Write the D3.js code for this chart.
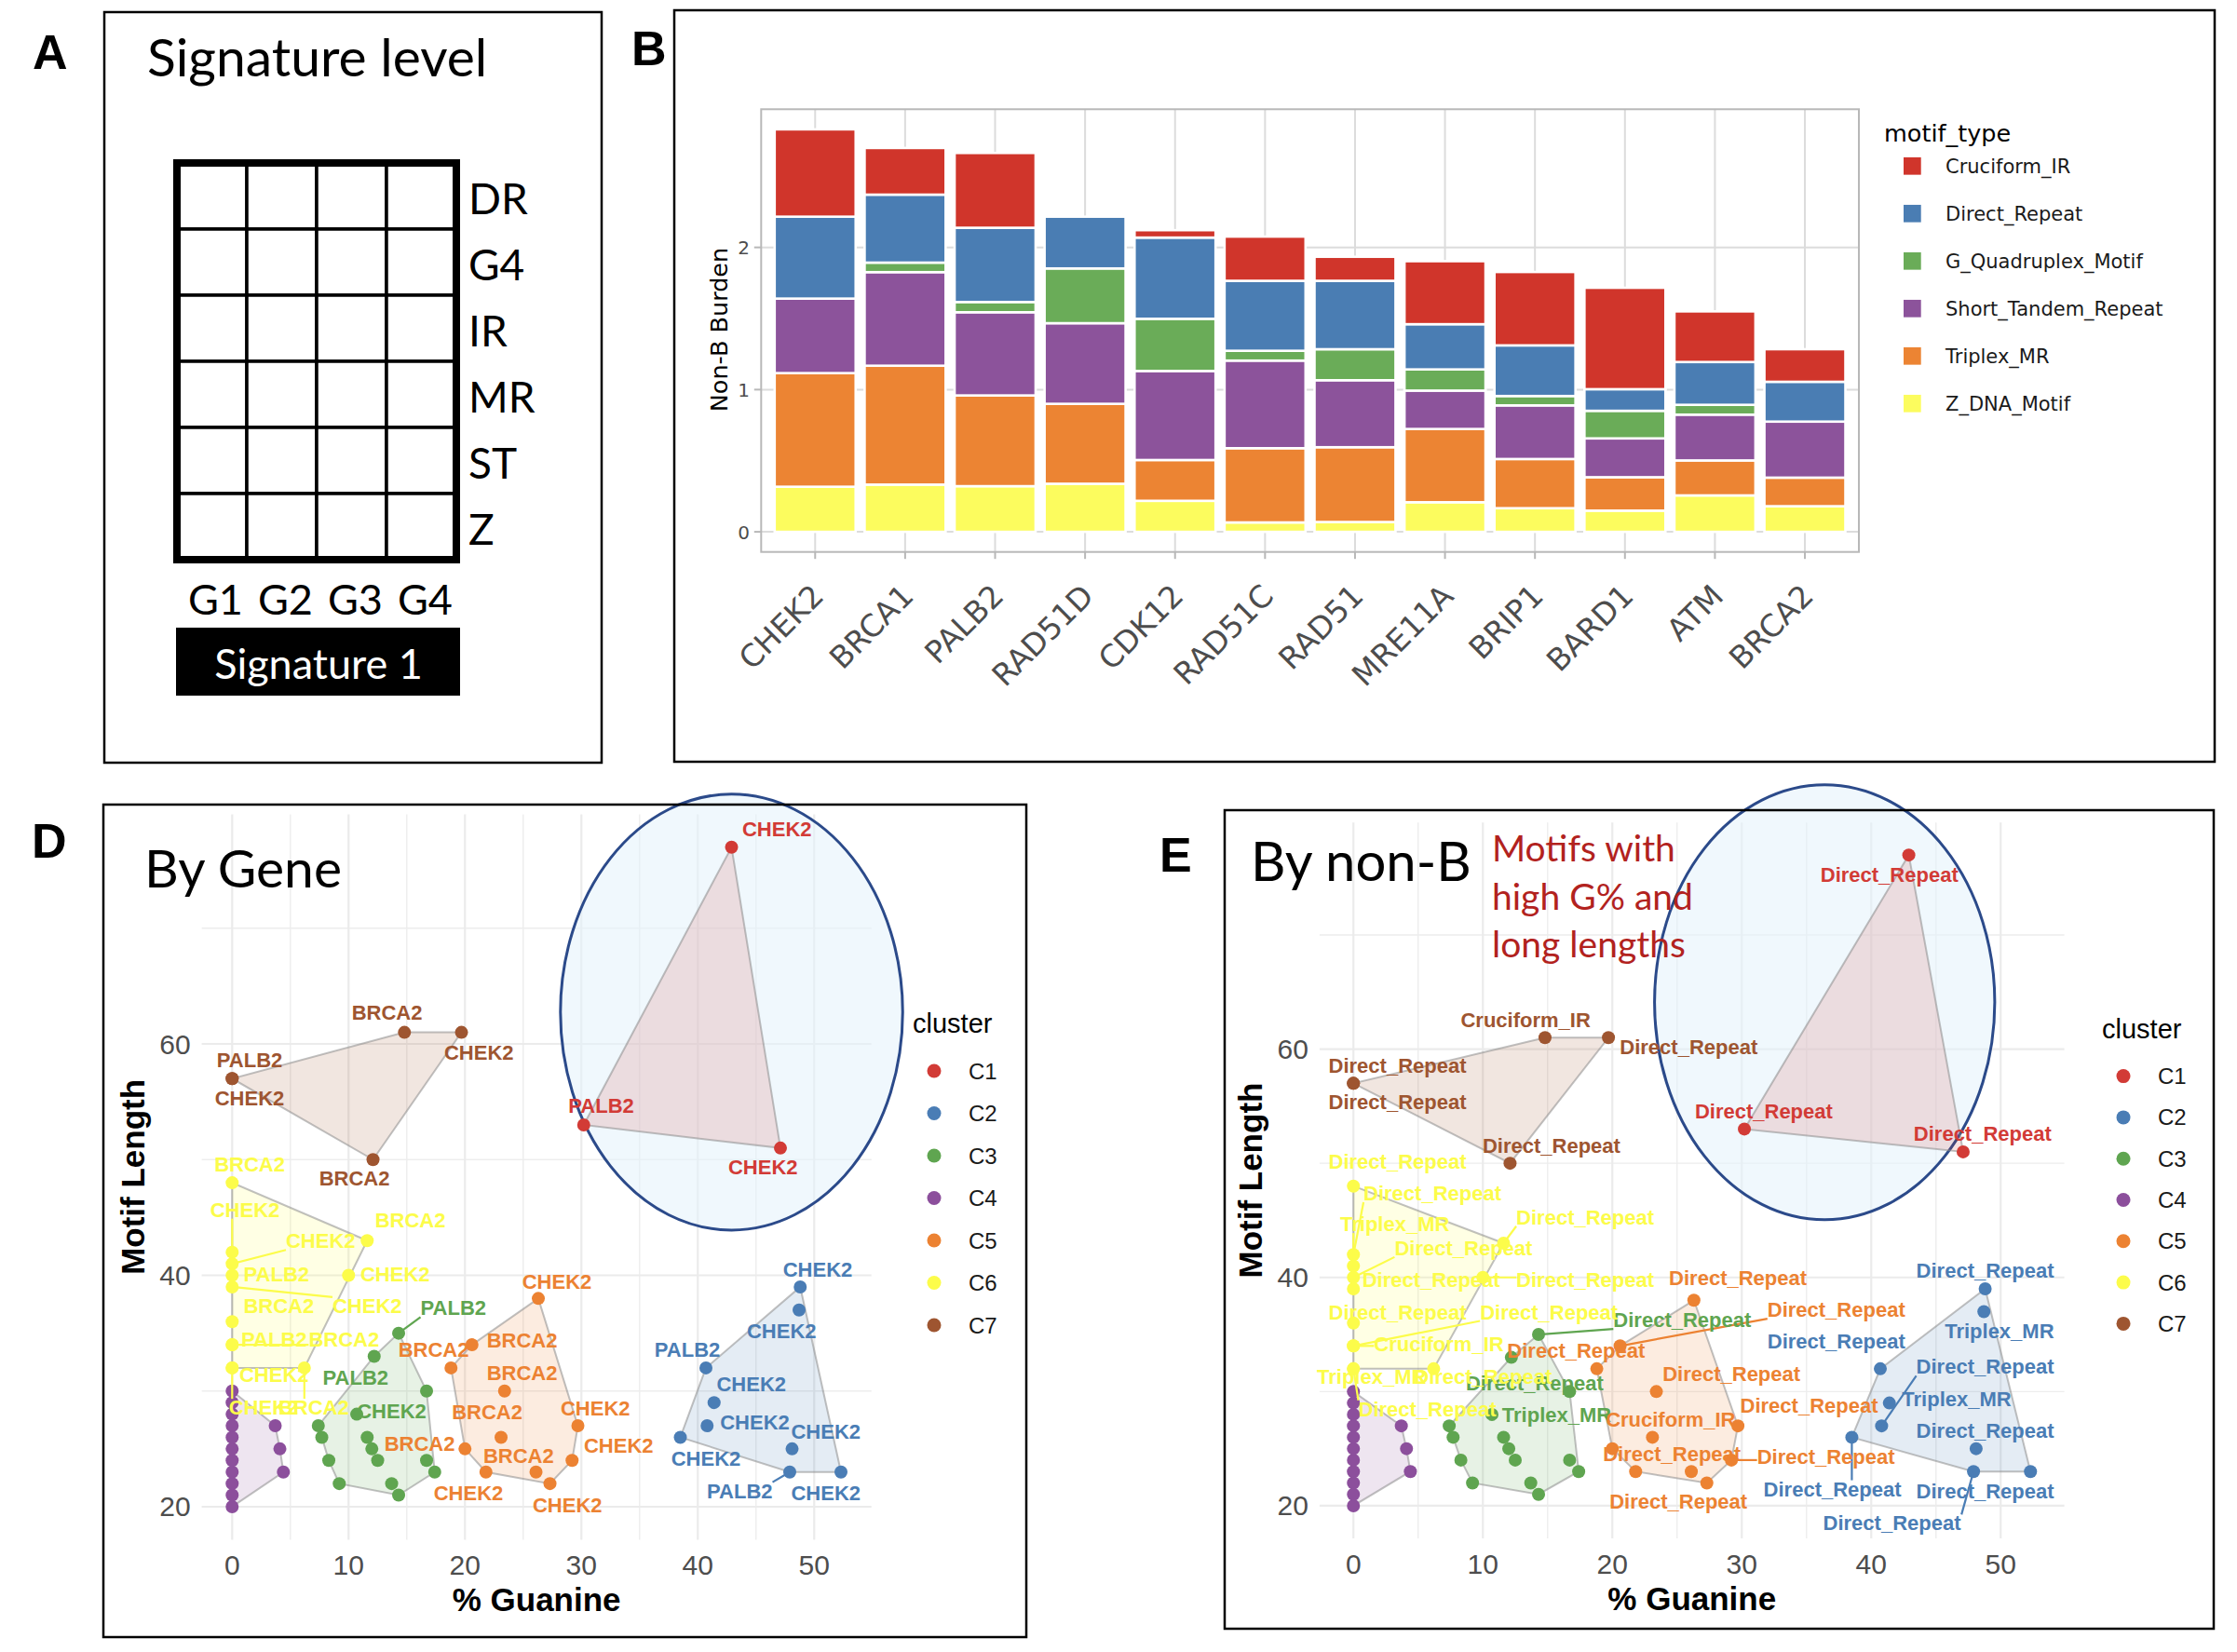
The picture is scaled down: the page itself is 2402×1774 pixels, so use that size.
<!DOCTYPE html>
<html>
<head>
<meta charset="utf-8">
<script src="https://cdn.jsdelivr.net/npm/d3@7"></script>
<style>
  body { margin: 0; background: #fff; }
  svg { display: block; }
</style>
</head>
<body>
<svg id="fig" width="2402" height="1774"></svg>
<script>
// ---------- panel A: signature layout ----------
const sigRows = ["DR", "G4", "IR", "MR", "ST", "Z"];
const sigCols = ["G1", "G2", "G3", "G4"];

// ---------- panel B: non-B burden per gene ----------
const genes = ["CHEK2", "BRCA1", "PALB2", "RAD51D", "CDK12", "RAD51C", "RAD51", "MRE11A", "BRIP1", "BARD1", "ATM", "BRCA2"];
const motifTypes = ["Cruciform_IR", "Direct_Repeat", "G_Quadruplex_Motif", "Short_Tandem_Repeat", "Triplex_MR", "Z_DNA_Motif"];
const motifColors = ["#D0352B", "#4A7DB3", "#6AAC58", "#8C539B", "#EC8433", "#FCFC5E"];
const cruciformIR   = [0.614, 0.328, 0.526, 0.000, 0.052, 0.311, 0.169, 0.443, 0.516, 0.713, 0.356, 0.229];
const directRepeat  = [0.576, 0.478, 0.522, 0.364, 0.571, 0.492, 0.481, 0.318, 0.356, 0.152, 0.301, 0.280];
const gQuadruplex   = [0.000, 0.067, 0.072, 0.385, 0.367, 0.069, 0.218, 0.149, 0.066, 0.194, 0.069, 0.000];
const shortTandem   = [0.524, 0.658, 0.585, 0.567, 0.626, 0.616, 0.471, 0.270, 0.377, 0.273, 0.322, 0.394];
const triplexMR     = [0.799, 0.836, 0.638, 0.562, 0.287, 0.522, 0.526, 0.515, 0.346, 0.235, 0.246, 0.201];
const zDNA          = [0.317, 0.332, 0.321, 0.338, 0.218, 0.066, 0.069, 0.208, 0.166, 0.149, 0.256, 0.180];
const burdenTicks = [0, 1, 2];

// ---------- panels D / E: motif clusters ----------
const clusters = ["C1", "C2", "C3", "C4", "C5", "C6", "C7"];
const clusterColors = ["#D23B36", "#4A7DB5", "#5FA550", "#8C4F9C", "#EC8232", "#FCFC4A", "#9E5530"];
const pointCluster = [
  "C1","C1","C1",
  "C2","C2","C2","C2","C2","C2","C2","C2","C2",
  "C3","C3","C3","C3","C3","C3","C3","C3","C3","C3","C3","C3","C3","C3","C3",
  "C4","C4","C4","C4","C4","C4","C4","C4","C4","C4","C4","C4","C4","C4",
  "C5","C5","C5","C5","C5","C5","C5","C5","C5","C5","C5",
  "C6","C6","C6","C6","C6","C6","C6","C6","C6","C6","C6","C6","C6",
  "C7","C7","C7","C7","C7"];
const pointGuanine = [
  42.9, 30.2, 47.1,
  48.8, 48.7, 40.7, 41.4, 40.8, 38.5, 48.1, 47.9, 52.3,
  14.3, 12.2, 16.7, 10.7, 7.4, 7.7, 11.6, 12.0, 12.5, 8.3, 16.7, 17.4, 9.2, 13.7, 14.3,
  0, 0, 0, 0, 0, 0, 0, 0, 0, 0, 0, 3.7, 4.1, 4.4,
  26.3, 20.6, 18.8, 23.4, 29.7, 23.1, 20.0, 29.2, 21.8, 26.1, 27.3,
  0, 0, 0, 0, 0, 0, 0, 0, 0, 0, 6.2, 11.6, 10.0,
  0, 0, 14.8, 19.7, 12.1];
const pointLength = [
  77, 53, 51,
  39, 37, 32, 29, 27, 26, 25, 23, 23,
  35, 33, 30, 28, 27, 26, 26, 25, 24, 24, 24, 23, 22, 22, 21,
  20, 21, 22, 23, 24, 25, 26, 27, 28, 29, 30, 27, 25, 23,
  38, 34, 32, 30, 27, 26, 25, 24, 23, 23, 22,
  48, 42, 41, 40, 39, 36, 34, 34, 32, 32, 32, 43, 40,
  57, 57, 61, 61, 50];
const geneLabels = [
  "CHEK2","PALB2","CHEK2",
  "CHEK2","CHEK2","PALB2","CHEK2","CHEK2","CHEK2","CHEK2","PALB2","CHEK2",
  "PALB2","PALB2",null,"CHEK2",null,null,null,null,null,null,null,null,null,null,null,
  null,null,null,null,null,null,null,null,null,null,null,null,null,null,
  "CHEK2","BRCA2","BRCA2","BRCA2","CHEK2","BRCA2","BRCA2","CHEK2","CHEK2","BRCA2","CHEK2",
  "BRCA2","CHEK2","CHEK2","PALB2","CHEK2","BRCA2","PALB2","BRCA2","CHEK2","CHEK2","BRCA2","BRCA2","CHEK2",
  "PALB2","CHEK2","BRCA2","CHEK2","BRCA2"];
const geneLabelGuanine = [
  46.8, 31.7, 45.6,
  50.3, 47.2, 39.1, 44.6, 44.9, 40.7, 51.0, 43.6, 51.0,
  19.0, 10.6, 0, 13.7, 0, 0, 0, 0, 0, 0, 0, 0, 0, 0, 0,
  0, 0, 0, 0, 0, 0, 0, 0, 0, 0, 0, 0, 0, 0,
  27.9, 24.9, 17.3, 24.9, 31.2, 21.9, 16.1, 33.2, 20.3, 24.6, 28.8,
  1.5, 1.1, 7.6, 3.8, 11.6, 4.0, 3.6, 9.6, 3.6, 2.7, 7.0, 15.3, 14.0,
  1.5, 1.5, 13.3, 21.2, 10.5];
const geneLabelLength = [
  78.6, 54.7, 49.4,
  40.5, 35.2, 33.6, 30.6, 27.3, 24.2, 26.5, 21.4, 21.2,
  37.2, 31.2, 0, 28.3, 0, 0, 0, 0, 0, 0, 0, 0, 0, 0, 0,
  0, 0, 0, 0, 0, 0, 0, 0, 0, 0, 0, 0, 0, 0,
  39.5, 34.4, 33.6, 31.6, 28.5, 28.2, 25.5, 25.3, 21.2, 24.4, 20.2,
  49.6, 45.7, 43.0, 40.1, 37.4, 37.4, 34.5, 34.5, 31.4, 28.6, 28.6, 44.8, 40.1,
  58.6, 55.3, 62.7, 59.3, 48.4];
const nonBLabels = [
  "Direct_Repeat","Direct_Repeat","Direct_Repeat",
  "Direct_Repeat","Triplex_MR","Direct_Repeat","Triplex_MR","Direct_Repeat","Direct_Repeat","Direct_Repeat","Direct_Repeat","Direct_Repeat",
  "Direct_Repeat","Direct_Repeat",null,"Triplex_MR",null,null,null,null,null,null,null,null,null,null,null,
  null,null,null,null,null,null,null,null,null,null,null,null,null,null,
  "Direct_Repeat","Direct_Repeat","Direct_Repeat","Direct_Repeat","Direct_Repeat","Cruciform_IR","Direct_Repeat","Direct_Repeat",null,null,"Direct_Repeat",
  "Direct_Repeat","Direct_Repeat","Triplex_MR","Direct_Repeat","Direct_Repeat","Direct_Repeat","Cruciform_IR","Direct_Repeat","Triplex_MR","Direct_Repeat","Direct_Repeat","Direct_Repeat","Direct_Repeat",
  "Direct_Repeat","Direct_Repeat","Cruciform_IR","Direct_Repeat","Direct_Repeat"];
const nonBLabelGuanine = [
  41.4, 31.7, 48.6,
  48.8, 49.9, 37.3, 46.6, 48.8, 37.0, 48.8, 41.6, 48.8,
  25.4, 14.0, 0, 15.7, 0, 0, 0, 0, 0, 0, 0, 0, 0, 0, 0,
  0, 0, 0, 0, 0, 0, 0, 0, 0, 0, 0, 0, 0, 0,
  29.7, 37.3, 17.2, 29.2, 35.2, 24.5, 24.6, 36.5, 0, 0, 25.1,
  3.4, 6.1, 3.2, 8.5, 6.0, 3.4, 6.6, 15.1, 1.4, 5.7, 10.0, 17.9, 17.9,
  3.4, 3.4, 13.3, 25.9, 15.3];
const nonBLabelLength = [
  75.3, 54.6, 52.6,
  40.6, 35.3, 34.4, 29.4, 32.2, 21.5, 26.6, 18.5, 21.3,
  36.3, 30.8, 0, 28.0, 0, 0, 0, 0, 0, 0, 0, 0, 0, 0, 0,
  0, 0, 0, 0, 0, 0, 0, 0, 0, 0, 0, 0, 0, 0,
  40.0, 37.2, 33.6, 31.6, 28.8, 27.6, 24.6, 24.3, 0, 0, 20.4,
  50.2, 47.4, 44.7, 42.6, 39.8, 37.0, 34.2, 37.0, 31.3, 28.5, 31.3, 45.3, 39.8,
  58.6, 55.4, 62.6, 60.2, 51.6];
const guanineTicks = [0, 10, 20, 30, 40, 50];
const guanineMinor = [5, 15, 25, 35, 45];
const lengthTicks = [20, 40, 60];
const lengthMinor = [30, 50, 70];
// hand-drawn highlight ellipses (data units): cx, cy, rx, ry
const highlightD = [42.9, 62.75, 14.7, 18.84];
const highlightE = [36.4, 64.1, 13.14, 19.05];

const calibri = "Lato, 'Open Sans', sans-serif";
const arial = "'Liberation Sans', Arial, sans-serif";
const verdana = "'DejaVu Sans', Verdana, sans-serif";

const svg = d3.select("#fig");
svg.append("rect").attr("width", 2402).attr("height", 1774).attr("fill", "#fff");

function panelBox(x0, y0, x1, y1) {
  return svg.append("rect")
    .attr("x", x0).attr("y", y0)
    .attr("width", x1 - x0).attr("height", y1 - y0)
    .attr("fill", "none").attr("stroke", "#000").attr("stroke-width", 2.5);
}

function panelLetter(t, x, y) {
  svg.append("text").attr("x", x).attr("y", y).text(t)
    .attr("font-family", arial).attr("font-weight", "bold").attr("font-size", 52);
}

// ================= Panel A =================
panelBox(112, 13, 646, 819);
panelLetter("A", 35, 74);
svg.append("text").attr("x", 158).attr("y", 82).text("Signature level")
  .attr("font-family", calibri).attr("font-size", 57);

const colScale = d3.scaleBand().domain(sigCols).range([190, 490]);
const rowScale = d3.scaleBand().domain(sigRows).range([175, 601]);
const gA = svg.append("g");
gA.selectAll("rect.cell")
  .data(d3.cross(sigRows, sigCols))
  .join("rect")
  .attr("class", "cell")
  .attr("x", d => colScale(d[1]))
  .attr("y", d => rowScale(d[0]))
  .attr("width", colScale.bandwidth())
  .attr("height", rowScale.bandwidth())
  .attr("fill", "#fff").attr("stroke", "#000").attr("stroke-width", 3.5);
gA.append("rect")
  .attr("x", 190).attr("y", 175).attr("width", 300).attr("height", 426)
  .attr("fill", "none").attr("stroke", "#000").attr("stroke-width", 8);
gA.selectAll("text.row")
  .data(sigRows)
  .join("text")
  .attr("class", "row")
  .attr("x", 503)
  .attr("y", d => rowScale(d) + rowScale.bandwidth() / 2 + 19)
  .attr("font-family", calibri).attr("font-size", 46)
  .text(d => d);
gA.selectAll("text.col")
  .data(sigCols)
  .join("text")
  .attr("class", "col")
  .attr("x", d => colScale(d) + colScale.bandwidth() / 2 + 4)
  .attr("y", 660)
  .attr("text-anchor", "middle")
  .attr("font-family", calibri).attr("font-size", 45)
  .text(d => d);
gA.append("rect").attr("x", 189).attr("y", 674).attr("width", 305).attr("height", 73).attr("fill", "#000");
gA.append("text").attr("x", 342).attr("y", 729).attr("text-anchor", "middle")
  .attr("font-family", calibri).attr("font-size", 45).attr("fill", "#fff")
  .text("Signature 1");

// ================= Panel B =================
panelBox(724, 11, 2378, 818);
panelLetter("B", 678, 70);

const burdenTable = genes.map((g, i) => ({
  gene: g,
  Cruciform_IR: cruciformIR[i],
  Direct_Repeat: directRepeat[i],
  G_Quadruplex_Motif: gQuadruplex[i],
  Short_Tandem_Repeat: shortTandem[i],
  Triplex_MR: triplexMR[i],
  Z_DNA_Motif: zDNA[i]
}));
const stackKeys = motifTypes.slice().reverse(); // Z_DNA at bottom
const stacked = d3.stack().keys(stackKeys)(burdenTable);
const maxBurden = d3.max(stacked[stacked.length - 1], d => d[1]);

const bx = d3.scaleBand().domain(genes).range([817.3, 1996]).paddingInner(0.1).paddingOuter(0.15);
const by = d3.scaleLinear().domain([-0.05 * maxBurden, maxBurden * 1.05]).range([592.7, 117.3]);
const motifColor = d3.scaleOrdinal().domain(motifTypes).range(motifColors);
const gB = svg.append("g");
const bTop = by.range()[1], bBottom = by.range()[0];

// grid
gB.selectAll("line.vgrid").data(genes).join("line")
  .attr("x1", d => bx(d) + bx.bandwidth() / 2).attr("x2", d => bx(d) + bx.bandwidth() / 2)
  .attr("y1", bTop).attr("y2", bBottom)
  .attr("stroke", "#DCDCDC").attr("stroke-width", 2);
gB.selectAll("line.hgrid").data(burdenTicks).join("line")
  .attr("x1", 817.3).attr("x2", 1996)
  .attr("y1", d => by(d)).attr("y2", d => by(d))
  .attr("stroke", "#DCDCDC").attr("stroke-width", 2);

// bars
gB.selectAll("g.layer").data(stacked).join("g")
  .attr("class", "layer")
  .attr("fill", d => motifColor(d.key))
  .selectAll("rect")
  .data(d => d.filter(s => s[1] - s[0] > 0))
  .join("rect")
  .attr("x", d => bx(d.data.gene))
  .attr("width", bx.bandwidth())
  .attr("y", d => by(d[1]))
  .attr("height", d => by(d[0]) - by(d[1]))
  .attr("stroke", "#fff").attr("stroke-width", 2.6);

// panel border + ticks
gB.append("rect").attr("x", 817.3).attr("y", bTop).attr("width", 1996 - 817.3).attr("height", bBottom - bTop)
  .attr("fill", "none").attr("stroke", "#B8B8B8").attr("stroke-width", 2);
gB.selectAll("line.xtick").data(genes).join("line")
  .attr("x1", d => bx(d) + bx.bandwidth() / 2).attr("x2", d => bx(d) + bx.bandwidth() / 2)
  .attr("y1", bBottom).attr("y2", bBottom + 7.5)
  .attr("stroke", "#B8B8B8").attr("stroke-width", 2);
gB.selectAll("line.ytick").data(burdenTicks).join("line")
  .attr("x1", 809.8).attr("x2", 817.3)
  .attr("y1", d => by(d)).attr("y2", d => by(d))
  .attr("stroke", "#B8B8B8").attr("stroke-width", 2);
gB.selectAll("text.ylab").data(burdenTicks).join("text")
  .attr("x", 805).attr("y", d => by(d) + 7.5)
  .attr("text-anchor", "end")
  .attr("font-family", verdana).attr("font-size", 20).attr("fill", "#4D4D4D")
  .text(d => d);
gB.selectAll("text.xlab").data(genes).join("text")
  .attr("transform", d => `translate(${bx(d) + bx.bandwidth() / 2 + 11},642) rotate(-45)`)
  .attr("text-anchor", "end")
  .attr("font-family", verdana).attr("font-size", 33).attr("fill", "#4D4D4D")
  .text(d => d);
gB.append("text")
  .attr("transform", "translate(781,354) rotate(-90)")
  .attr("text-anchor", "middle")
  .attr("font-family", verdana).attr("font-size", 25.5)
  .text("Non-B Burden");

// legend
const legB = svg.append("g");
legB.append("text").attr("x", 2023).attr("y", 152)
  .attr("font-family", verdana).attr("font-size", 25.5).text("motif_type");
const legBItem = legB.selectAll("g.item").data(motifTypes).join("g")
  .attr("transform", (d, i) => `translate(0,${178.3 + i * 51})`);
legBItem.append("rect").attr("x", 2044).attr("y", -9.35).attr("width", 18.7).attr("height", 18.7)
  .attr("fill", d => motifColor(d));
legBItem.append("text").attr("x", 2089).attr("y", 7.6)
  .attr("font-family", verdana).attr("font-size", 21).attr("fill", "#1A1A1A")
  .text(d => d);

// ================= Panels D / E =================
const clusterColor = d3.scaleOrdinal().domain(clusters).range(clusterColors);
const points = pointCluster.map((c, i) => ({
  cluster: c, gc: pointGuanine[i], len: pointLength[i],
  gene: geneLabels[i], geneX: geneLabelGuanine[i], geneY: geneLabelLength[i],
  nonb: nonBLabels[i], nonbX: nonBLabelGuanine[i], nonbY: nonBLabelLength[i]
}));

function drawScatter(cfg) {
  const gcExt = d3.extent(points, d => d.gc);
  const lenExt = d3.extent(points, d => d.len);
  const gcPad = (gcExt[1] - gcExt[0]) * 0.05;
  const lenPad = (lenExt[1] - lenExt[0]) * 0.05;
  const x = d3.scaleLinear().domain([gcExt[0] - gcPad, gcExt[1] + gcPad]).range(cfg.xRange);
  const y = d3.scaleLinear().domain([lenExt[0] - lenPad, lenExt[1] + lenPad]).range(cfg.yRange);
  const [left, right] = cfg.xRange;
  const [bottom, top] = cfg.yRange;
  const g = svg.append("g");

  // grid (theme_minimal)
  g.selectAll("line.vminor").data(guanineMinor).join("line")
    .attr("x1", d => x(d)).attr("x2", d => x(d)).attr("y1", top).attr("y2", bottom)
    .attr("stroke", "#EDEDED").attr("stroke-width", 1.4);
  g.selectAll("line.hminor").data(lengthMinor).join("line")
    .attr("x1", left).attr("x2", right).attr("y1", d => y(d)).attr("y2", d => y(d))
    .attr("stroke", "#EDEDED").attr("stroke-width", 1.4);
  g.selectAll("line.vmajor").data(guanineTicks).join("line")
    .attr("x1", d => x(d)).attr("x2", d => x(d)).attr("y1", top).attr("y2", bottom)
    .attr("stroke", "#EBEBEB").attr("stroke-width", 2.2);
  g.selectAll("line.hmajor").data(lengthTicks).join("line")
    .attr("x1", left).attr("x2", right).attr("y1", d => y(d)).attr("y2", d => y(d))
    .attr("stroke", "#EBEBEB").attr("stroke-width", 2.2);

  // highlight ellipse
  const e = cfg.ellipse;
  g.append("ellipse")
    .attr("cx", x(e[0])).attr("cy", y(e[1]))
    .attr("rx", x(e[0] + e[2]) - x(e[0])).attr("ry", y(e[1]) - y(e[1] + e[3]))
    .attr("fill", "#E4F2FB").attr("fill-opacity", 0.55)
    .attr("stroke", "#2B4A8A").attr("stroke-width", 3);

  // cluster hulls
  const byCluster = d3.group(points, d => d.cluster);
  clusters.forEach(c => {
    const pts = byCluster.get(c).map(d => [x(d.gc), y(d.len)]);
    const hull = d3.polygonHull(pts);
    if (!hull) return;
    g.append("path")
      .attr("d", "M" + hull.join("L") + "Z")
      .attr("fill", clusterColor(c)).attr("fill-opacity", 0.15)
      .attr("stroke", "#8C8C8C").attr("stroke-opacity", 0.55).attr("stroke-width", 2);
  });

  // points
  g.selectAll("circle.pt").data(points).join("circle")
    .attr("cx", d => x(d.gc)).attr("cy", d => y(d.len)).attr("r", 7)
    .attr("fill", d => clusterColor(d.cluster));

  // repel-style labels with leader segments
  const segG = g.append("g");
  const labG = g.append("g");
  points.filter(d => d[cfg.label]).forEach(d => {
    const px = x(d.gc), py = y(d.len);
    const t = labG.append("text")
      .attr("x", x(d[cfg.label + "X"])).attr("y", y(d[cfg.label + "Y"]) + 8)
      .attr("text-anchor", "middle")
      .attr("font-family", arial).attr("font-weight", "bold").attr("font-size", 22)
      .attr("fill", clusterColor(d.cluster))
      .text(d[cfg.label]);
    const bb = t.node().getBBox();
    const cx = Math.max(bb.x, Math.min(px, bb.x + bb.width));
    const cy = Math.max(bb.y + 3, Math.min(py, bb.y + bb.height - 3));
    if (Math.hypot(cx - px, cy - py) > 20) {
      segG.append("line")
        .attr("x1", px).attr("y1", py).attr("x2", cx).attr("y2", cy)
        .attr("stroke", clusterColor(d.cluster)).attr("stroke-width", 2.2);
    }
  });

  // axes text
  g.selectAll("text.yt").data(lengthTicks).join("text")
    .attr("x", left - 12).attr("y", d => y(d) + 10.5)
    .attr("text-anchor", "end")
    .attr("font-family", arial).attr("font-size", 30).attr("fill", "#4D4D4D")
    .text(d => d);
  g.selectAll("text.xt").data(guanineTicks).join("text")
    .attr("x", d => x(d)).attr("y", bottom + 38)
    .attr("text-anchor", "middle")
    .attr("font-family", arial).attr("font-size", 30).attr("fill", "#4D4D4D")
    .text(d => d);
  g.append("text")
    .attr("x", (left + right) / 2).attr("y", bottom + 77)
    .attr("text-anchor", "middle")
    .attr("font-family", arial).attr("font-weight", "bold").attr("font-size", 35)
    .text("% Guanine");
  g.append("text")
    .attr("transform", `translate(${left - 62},${(top + bottom) / 2}) rotate(-90)`)
    .attr("text-anchor", "middle")
    .attr("font-family", arial).attr("font-weight", "bold").attr("font-size", 35)
    .text("Motif Length");

  // legend
  const lg = svg.append("g");
  lg.append("text").attr("x", cfg.legend[0] - 23).attr("y", cfg.legend[1] - 41)
    .attr("font-family", arial).attr("font-size", 29).text("cluster");
  const items = lg.selectAll("g.it").data(clusters).join("g")
    .attr("transform", (c, i) => `translate(${cfg.legend[0]},${cfg.legend[1] + i * cfg.legend[2]})`);
  items.append("circle").attr("r", 7.5).attr("fill", c => clusterColor(c));
  items.append("text").attr("x", 37).attr("y", 8.5)
    .attr("font-family", arial).attr("font-size", 24).attr("fill", "#1A1A1A")
    .text(c => c);
}

// Panel D
drawScatter({
  xRange: [216.6, 935.7], yRange: [1653.4, 874.4],
  label: "gene", ellipse: highlightD, legend: [1003, 1150, 45.5]
});
panelBox(111, 864, 1102, 1758);
panelLetter("D", 34, 921);
svg.append("text").attr("x", 155).attr("y", 953).text("By Gene")
  .attr("font-family", calibri).attr("font-size", 57);

// Panel E
drawScatter({
  xRange: [1416.9, 2216.6], yRange: [1651.9, 883.2],
  label: "nonb", ellipse: highlightE, legend: [2280, 1155.6, 44.3]
});
panelBox(1315, 870, 2377, 1749);
panelLetter("E", 1245, 936);
svg.append("text").attr("x", 1343).attr("y", 946).text("By non-B")
  .attr("font-family", calibri).attr("font-size", 58);
const note = ["Motifs with", "high G% and", "long lengths"];
svg.append("g").selectAll("text").data(note).join("text")
  .attr("x", 1602).attr("y", (d, i) => 925 + i * 51.5)
  .attr("font-family", calibri).attr("font-size", 39).attr("fill", "#B2221E")
  .text(d => d);
</script>
</body>
</html>
